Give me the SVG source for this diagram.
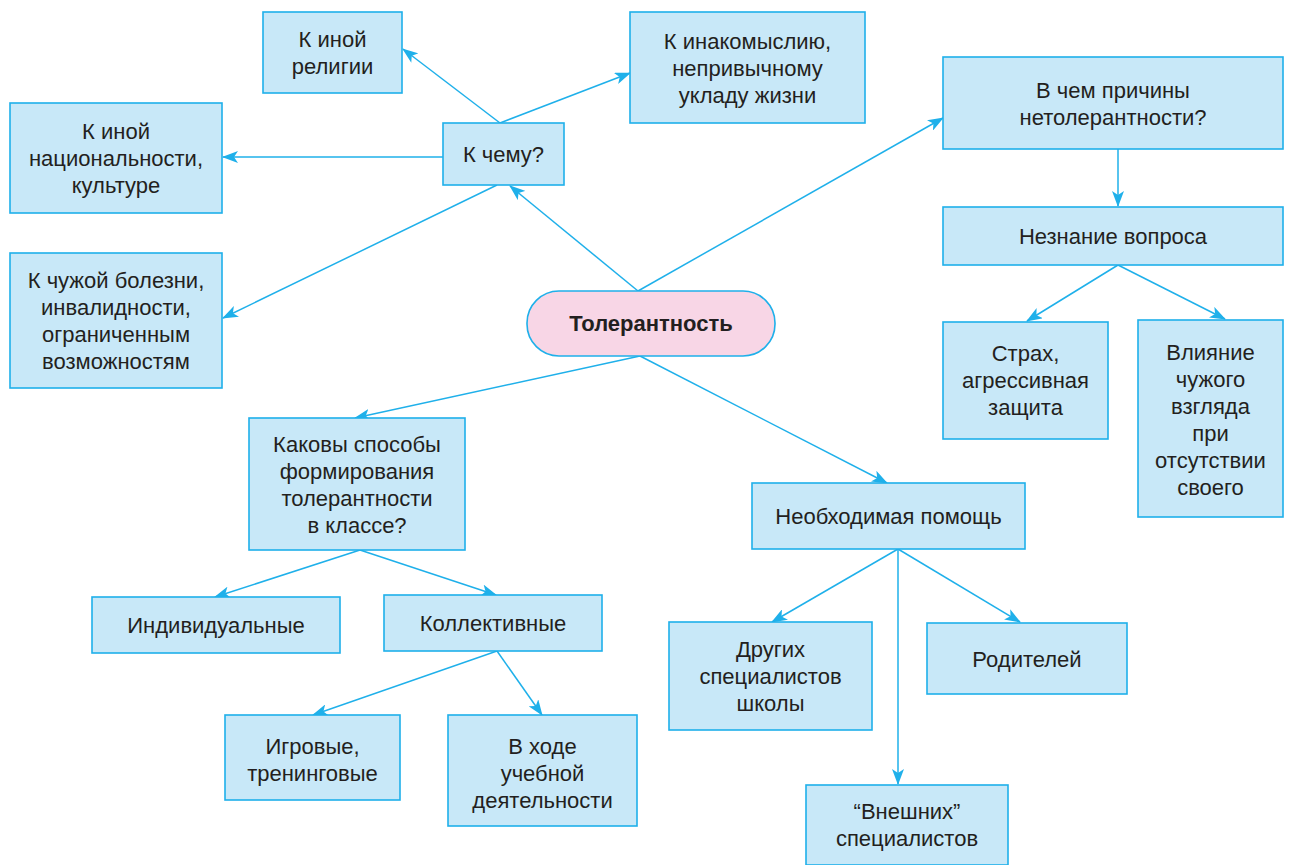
<svg xmlns="http://www.w3.org/2000/svg" width="1295" height="865" viewBox="0 0 1295 865">
<defs>
<style>
.b{fill:#c8e8f8;stroke:#1fb0ea;stroke-width:1.6}
.c{fill:#f8d6e6;stroke:#1fb0ea;stroke-width:1.6}
.t{font-family:"Liberation Sans",Arial,sans-serif;font-size:22px;fill:#231f20;text-anchor:middle}
.bold{font-weight:bold}
.l{stroke:#1fb0ea;stroke-width:1.5;fill:none;marker-end:url(#ah)}
</style>
<marker id="ah" viewBox="0 0 16 12" refX="15" refY="6" markerWidth="16" markerHeight="12" markerUnits="userSpaceOnUse" orient="auto">
<path d="M0,0 L16,6 L0,12 L4,6 z" fill="#1fb0ea"/>
</marker>
</defs>
<rect width="1295" height="865" fill="#ffffff"/>
<g id="connectors">
<line class="l" x1="500" y1="123" x2="403" y2="49"/>
<line class="l" x1="500" y1="123" x2="630" y2="73"/>
<line class="l" x1="443" y1="157" x2="223" y2="157"/>
<line class="l" x1="497" y1="185" x2="223" y2="318"/>
<line class="l" x1="638" y1="291" x2="510" y2="186"/>
<line class="l" x1="638" y1="291" x2="943" y2="118"/>
<line class="l" x1="1118" y1="149" x2="1118" y2="206"/>
<line class="l" x1="1118" y1="265" x2="1027" y2="321"/>
<line class="l" x1="1118" y1="265" x2="1225" y2="319"/>
<line class="l" x1="640" y1="356" x2="355" y2="418"/>
<line class="l" x1="640" y1="356" x2="887" y2="483"/>
<line class="l" x1="360" y1="550" x2="215" y2="597"/>
<line class="l" x1="360" y1="550" x2="496" y2="595"/>
<line class="l" x1="497" y1="651" x2="313" y2="715"/>
<line class="l" x1="497" y1="651" x2="542" y2="715"/>
<line class="l" x1="898" y1="549" x2="772" y2="622"/>
<line class="l" x1="898" y1="549" x2="1020" y2="622"/>
<line class="l" x1="898" y1="549" x2="898" y2="784"/>
</g>
<g id="n-religion"><rect class="b" x="263" y="12" width="139" height="81"/><text class="t" x="332.5" y="47">К иной</text><text class="t" x="332.5" y="74">религии</text></g>
<g id="n-inakomyslie"><rect class="b" x="630" y="12" width="235" height="111"/><text class="t" x="747.5" y="49">К инакомыслию,</text><text class="t" x="747.5" y="76">непривычному</text><text class="t" x="747.5" y="103">укладу жизни</text></g>
<g id="n-nation"><rect class="b" x="10" y="103" width="212" height="110"/><text class="t" x="116" y="139">К иной</text><text class="t" x="116" y="166">национальности,</text><text class="t" x="116" y="193">культуре</text></g>
<g id="n-kchemu"><rect class="b" x="443" y="123" width="121" height="62"/><text class="t" x="503.5" y="162">К чему?</text></g>
<g id="n-bolezn"><rect class="b" x="10" y="253" width="212" height="135"/><text class="t" x="116" y="288">К чужой болезни,</text><text class="t" x="116" y="315">инвалидности,</text><text class="t" x="116" y="342">ограниченным</text><text class="t" x="116" y="369">возможностям</text></g>
<g id="n-prichiny"><rect class="b" x="943" y="57" width="340" height="92"/><text class="t" x="1113" y="98">В чем причины</text><text class="t" x="1113" y="125">нетолерантности?</text></g>
<g id="n-neznanie"><rect class="b" x="943" y="207" width="340" height="58"/><text class="t" x="1113" y="244">Незнание вопроса</text></g>
<g id="n-tolerance"><rect class="c" x="527" y="291" width="248" height="65" rx="32" ry="32"/><text class="t bold" x="651" y="331">Толерантность</text></g>
<g id="n-strah"><rect class="b" x="943" y="322" width="165" height="117"/><text class="t" x="1025.5" y="361">Страх,</text><text class="t" x="1025.5" y="388">агрессивная</text><text class="t" x="1025.5" y="415">защита</text></g>
<g id="n-vliyanie"><rect class="b" x="1138" y="320" width="145" height="197"/><text class="t" x="1210.5" y="360">Влияние</text><text class="t" x="1210.5" y="387">чужого</text><text class="t" x="1210.5" y="414">взгляда</text><text class="t" x="1210.5" y="441">при</text><text class="t" x="1210.5" y="468">отсутствии</text><text class="t" x="1210.5" y="495">своего</text></g>
<g id="n-sposoby"><rect class="b" x="249" y="418" width="216" height="132"/><text class="t" x="357" y="452">Каковы способы</text><text class="t" x="357" y="479">формирования</text><text class="t" x="357" y="506">толерантности</text><text class="t" x="357" y="533">в классе?</text></g>
<g id="n-pomosh"><rect class="b" x="752" y="483" width="273" height="66"/><text class="t" x="888.5" y="524">Необходимая помощь</text></g>
<g id="n-individ"><rect class="b" x="92" y="597" width="248" height="56"/><text class="t" x="216" y="633">Индивидуальные</text></g>
<g id="n-kollekt"><rect class="b" x="384" y="595" width="218" height="56"/><text class="t" x="493" y="631">Коллективные</text></g>
<g id="n-drugih"><rect class="b" x="669" y="622" width="203" height="108"/><text class="t" x="770.5" y="657">Других</text><text class="t" x="770.5" y="684">специалистов</text><text class="t" x="770.5" y="711">школы</text></g>
<g id="n-roditeli"><rect class="b" x="927" y="623" width="200" height="71"/><text class="t" x="1027" y="667">Родителей</text></g>
<g id="n-igrovye"><rect class="b" x="225" y="715" width="175" height="85"/><text class="t" x="312.5" y="754">Игровые,</text><text class="t" x="312.5" y="781">тренинговые</text></g>
<g id="n-vhode"><rect class="b" x="448" y="715" width="189" height="111"/><text class="t" x="542.5" y="754">В ходе</text><text class="t" x="542.5" y="781">учебной</text><text class="t" x="542.5" y="808">деятельности</text></g>
<g id="n-vneshnih"><rect class="b" x="806" y="785" width="202" height="80"/><text class="t" x="907" y="819">“Внешних”</text><text class="t" x="907" y="846">специалистов</text></g>
</svg>
